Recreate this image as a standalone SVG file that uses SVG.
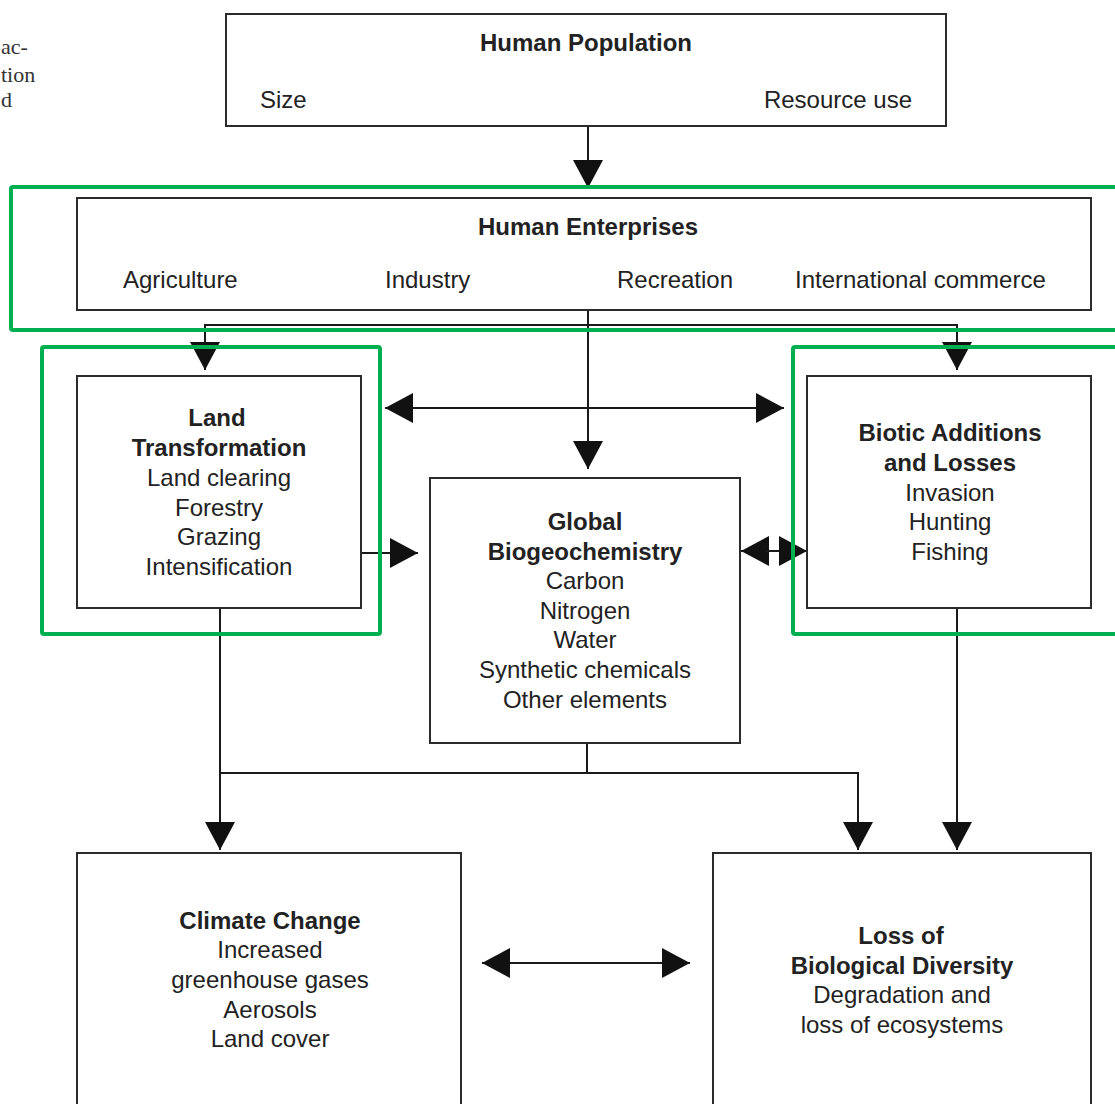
<svg xmlns="http://www.w3.org/2000/svg" width="1115" height="1104" viewBox="0 0 1115 1104">
<defs>
<style>
.box{fill:#fff;stroke:#2b2b2b;stroke-width:2}
.hl{fill:none;stroke:#00b050;stroke-width:4}
.ln{fill:none;stroke:#1a1a1a;stroke-width:2}
text{font-family:"Liberation Sans",Arial,sans-serif;font-size:24px;fill:#222}
.b{font-weight:bold}
.c{text-anchor:middle}
.frag{font-family:"Liberation Serif","Times New Roman",serif;font-size:22px;fill:#333}
</style>
<marker id="ah" markerUnits="userSpaceOnUse" markerWidth="30" markerHeight="30" viewBox="0 0 28 30" refX="28" refY="15" orient="auto-start-reverse">
<path d="M0,0 L28,15 L0,30 Z" fill="#111"/>
</marker>
</defs>
<rect width="1115" height="1104" fill="#fff"/>
<g id="fragment">
<text class="frag" x="1" y="54">ac-</text>
<text class="frag" x="1" y="82">tion</text>
<text class="frag" x="1" y="107">d</text>
</g>
<g id="connectors">
<line class="ln" x1="588" y1="126" x2="588" y2="188" marker-end="url(#ah)"/>
<line class="ln" x1="588" y1="310" x2="588" y2="469" marker-end="url(#ah)"/>
<polyline class="ln" points="205,370 205,325 957,325 957,370" marker-start="url(#ah)" marker-end="url(#ah)"/>
<line class="ln" x1="385" y1="408" x2="784" y2="408" marker-start="url(#ah)" marker-end="url(#ah)"/>
<line class="ln" x1="361" y1="553" x2="418" y2="553" marker-end="url(#ah)"/>
<line class="ln" x1="741" y1="551" x2="769" y2="551" marker-start="url(#ah)"/>
<line class="ln" x1="765" y1="551" x2="807" y2="551" marker-end="url(#ah)"/>
<line class="ln" x1="220" y1="608" x2="220" y2="850" marker-end="url(#ah)"/>
<polyline class="ln" points="587,743 587,773 220,773"/>
<polyline class="ln" points="587,773 858,773 858,850" marker-end="url(#ah)"/>
<line class="ln" x1="957" y1="608" x2="957" y2="850" marker-end="url(#ah)"/>
<line class="ln" x1="482" y1="963" x2="690" y2="963" marker-start="url(#ah)" marker-end="url(#ah)"/>
</g>
<g id="human-population">
<rect class="box" x="226" y="14" width="720" height="112"/>
<text class="b c" x="586" y="51">Human Population</text>
<text x="260" y="108">Size</text>
<text x="912" y="108" text-anchor="end">Resource use</text>
</g>
<g id="human-enterprises">
<rect class="box" x="77" y="198" width="1014" height="112"/>
<text class="b c" x="588" y="235">Human Enterprises</text>
<text x="123" y="288">Agriculture</text>
<text x="385" y="288">Industry</text>
<text x="617" y="288">Recreation</text>
<text x="795" y="288">International commerce</text>
</g>
<g id="land-transformation">
<rect class="box" x="77" y="376" width="284" height="232"/>
<text class="b c" x="217" y="426">Land</text>
<text class="b c" x="219" y="456">Transformation</text>
<text class="c" x="219" y="486">Land clearing</text>
<text class="c" x="219" y="516">Forestry</text>
<text class="c" x="219" y="545">Grazing</text>
<text class="c" x="219" y="575">Intensification</text>
</g>
<g id="global-biogeochemistry">
<rect class="box" x="430" y="478" width="310" height="265"/>
<text class="b c" x="585" y="530">Global</text>
<text class="b c" x="585" y="560">Biogeochemistry</text>
<text class="c" x="585" y="589">Carbon</text>
<text class="c" x="585" y="619">Nitrogen</text>
<text class="c" x="585" y="648">Water</text>
<text class="c" x="585" y="678">Synthetic chemicals</text>
<text class="c" x="585" y="708">Other elements</text>
</g>
<g id="biotic-additions">
<rect class="box" x="807" y="376" width="284" height="232"/>
<text class="b c" x="950" y="441">Biotic Additions</text>
<text class="b c" x="950" y="471">and Losses</text>
<text class="c" x="950" y="501">Invasion</text>
<text class="c" x="950" y="530">Hunting</text>
<text class="c" x="950" y="560">Fishing</text>
</g>
<g id="climate-change">
<rect class="box" x="77" y="853" width="384" height="260"/>
<text class="b c" x="270" y="929">Climate Change</text>
<text class="c" x="270" y="958">Increased</text>
<text class="c" x="270" y="988">greenhouse gases</text>
<text class="c" x="270" y="1018">Aerosols</text>
<text class="c" x="270" y="1047">Land cover</text>
</g>
<g id="loss-biodiversity">
<rect class="box" x="713" y="853" width="378" height="260"/>
<text class="b c" x="901" y="944">Loss of</text>
<text class="b c" x="902" y="974">Biological Diversity</text>
<text class="c" x="902" y="1003">Degradation and</text>
<text class="c" x="902" y="1033">loss of ecosystems</text>
</g>
<g id="highlights">
<rect class="hl" x="11" y="187" width="1120" height="143" rx="2"/>
<rect class="hl" x="42" y="347" width="338" height="287" rx="2"/>
<rect class="hl" x="793" y="347" width="340" height="287" rx="2"/>
</g>
</svg>
